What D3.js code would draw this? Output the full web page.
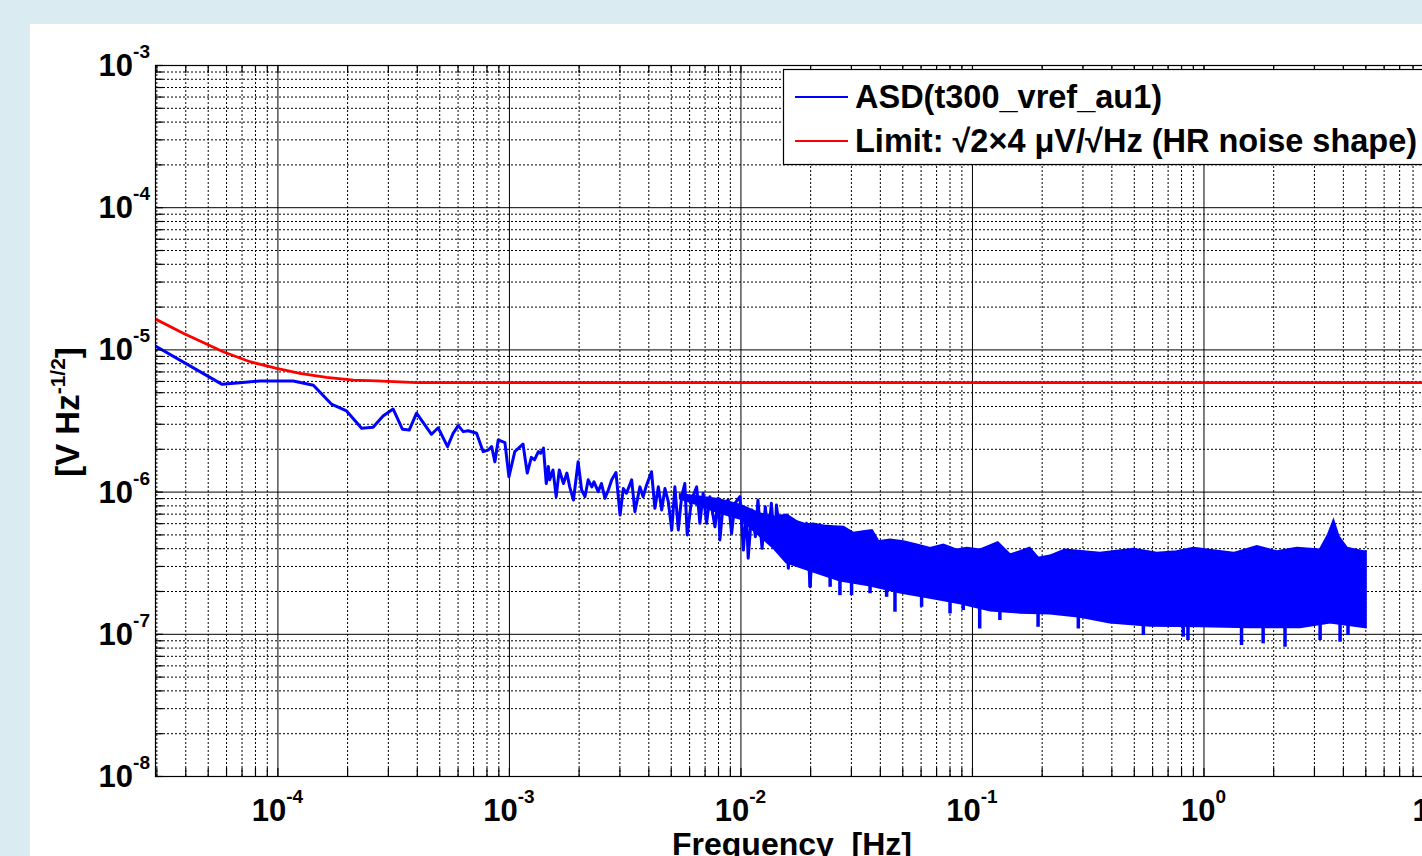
<!DOCTYPE html>
<html>
<head>
<meta charset="utf-8">
<script src="https://cdn.jsdelivr.net/npm/d3@7"></script>
<style>
  body { margin: 0; background: #daecf2; overflow: hidden; }
  svg { display: block; }
</style>
</head>
<body>
<svg id="chart" width="1422" height="856"></svg>
<script>
// resolved part of the spectrum
var asdFreq = [2.96e-5, 5.77e-5, 6.89e-5, 8.40e-5, 1.17e-4, 1.43e-4, 1.71e-4, 1.99e-4, 2.31e-4, 2.59e-4,
    2.86e-4, 3.16e-4, 3.47e-4, 3.71e-4, 3.99e-4, 4.63e-4, 4.95e-4, 5.43e-4, 5.74e-4, 6.04e-4,
    6.35e-4, 6.67e-4, 7.25e-4, 7.74e-4, 8.14e-4, 8.42e-4, 8.70e-4, 8.99e-4, 9.61e-4, 1.00e-3,
    1.06e-3, 1.15e-3, 1.20e-3, 1.25e-3, 1.29e-3, 1.34e-3, 1.37e-3, 1.41e-3, 1.45e-3, 1.48e-3,
    1.50e-3, 1.55e-3, 1.60e-3, 1.65e-3, 1.72e-3, 1.78e-3, 1.83e-3, 1.90e-3, 1.99e-3, 2.06e-3,
    2.13e-3, 2.20e-3, 2.28e-3, 2.33e-3, 2.43e-3, 2.51e-3, 2.60e-3, 2.69e-3, 2.78e-3, 2.90e-3,
    3.02e-3, 3.12e-3, 3.22e-3, 3.39e-3, 3.50e-3, 3.68e-3, 3.80e-3, 3.93e-3, 4.13e-3, 4.27e-3,
    4.42e-3, 4.57e-3, 4.72e-3, 4.88e-3, 5.05e-3, 5.21e-3, 5.39e-3, 5.57e-3, 5.75e-3, 5.89e-3,
    6.15e-3, 6.47e-3, 6.68e-3, 6.90e-3, 7.14e-3, 7.38e-3, 7.76e-3, 8.02e-3, 8.15e-3, 8.43e-3,
    8.86e-3, 9.16e-3, 9.46e-3, 9.95e-3, 1.03e-2, 1.06e-2, 1.08e-2, 1.12e-2, 1.16e-2, 1.19e-2,
    1.24e-2, 1.28e-2, 1.32e-2, 1.36e-2, 1.41e-2, 1.43e-2, 1.51e-2, 1.56e-2, 1.61e-2, 1.66e-2,
    1.72e-2, 1.78e-2, 1.84e-2, 1.93e-2, 2.00e-2, 2.06e-2, 2.13e-2, 2.21e-2];
var asdValue = [1.06e-5, 5.68e-6, 5.83e-6, 6.0e-6, 6.0e-6, 5.59e-6, 4.13e-6, 3.69e-6, 2.79e-6, 2.83e-6,
    3.40e-6, 3.81e-6, 2.74e-6, 2.71e-6, 3.56e-6, 2.53e-6, 2.81e-6, 2.07e-6, 2.57e-6, 2.91e-6,
    2.64e-6, 2.68e-6, 2.57e-6, 1.91e-6, 1.96e-6, 2.07e-6, 1.62e-6, 2.31e-6, 2.21e-6, 1.27e-6,
    1.91e-6, 2.16e-6, 1.35e-6, 1.74e-6, 1.67e-6, 1.91e-6, 1.86e-6, 2.02e-6, 1.14e-6, 1.50e-6,
    1.21e-6, 1.42e-6, 9.21e-7, 1.42e-6, 1.14e-6, 1.35e-6, 1.08e-6, 8.73e-7, 1.62e-6, 1.03e-6,
    9.21e-7, 1.21e-6, 1.08e-6, 1.17e-6, 1.00e-6, 1.14e-6, 8.97e-7, 1.03e-6, 1.21e-6, 1.36e-6,
    6.84e-7, 1.05e-6, 9.73e-7, 1.21e-6, 7.22e-7, 1.08e-6, 9.21e-7, 1.11e-6, 1.38e-6, 7.63e-7,
    1.08e-6, 7.42e-7, 1.05e-6, 8.49e-7, 5.37e-7, 1.08e-6, 5.37e-7, 9.21e-7, 1.14e-6, 4.95e-7,
    8.73e-7, 1.08e-6, 5.98e-7, 9.73e-7, 5.98e-7, 9.21e-7, 5.66e-7, 8.97e-7, 4.57e-7, 8.27e-7,
    8.73e-7, 5.09e-7, 8.27e-7, 9.21e-7, 3.88e-7, 7.42e-7, 3.40e-7, 7.42e-7, 4.82e-7, 8.73e-7,
    3.99e-7, 7.83e-7, 4.82e-7, 8.27e-7, 4.10e-7, 8.05e-7, 3.88e-7, 5.98e-7, 2.89e-7, 5.37e-7,
    3.13e-7, 5.66e-7, 3.48e-7, 5.98e-7, 2.14e-7, 5.09e-7, 3.88e-7, 5.37e-7];

// dense part: upper and lower edge of the solid noise band
var bandTopFreq = [5.5e-3, 6.5e-3, 8.0e-3, 1.0e-2, 1.2e-2, 1.4e-2, 1.58e-2, 1.75e-2, 1.93e-2, 2.06e-2,
    2.28e-2, 2.52e-2, 2.78e-2, 3.07e-2, 3.39e-2, 3.69e-2, 3.94e-2, 4.42e-2, 5.05e-2, 5.77e-2,
    6.59e-2, 7.52e-2, 8.59e-2, 9.49e-2, 0.108, 0.129, 0.146, 0.177, 0.193, 0.217,
    0.252, 0.303, 0.357, 0.498, 0.628, 0.766, 0.904, 1.10, 1.35, 1.70,
    2.07, 2.53, 3.19, 3.46, 3.64, 3.82, 4.16, 4.90, 5.0];
var bandTopValue = [9.5e-7, 9.2e-7, 8.8e-7, 8.0e-7, 7.0e-7, 6.6e-7, 6.84e-7, 6.14e-7, 5.82e-7, 5.92e-7,
    5.73e-7, 5.66e-7, 5.61e-7, 5.09e-7, 5.22e-7, 5.31e-7, 4.44e-7, 4.57e-7, 4.44e-7, 4.21e-7,
    3.99e-7, 4.21e-7, 3.88e-7, 3.99e-7, 3.88e-7, 4.37e-7, 3.58e-7, 3.99e-7, 3.40e-7, 3.52e-7,
    3.88e-7, 3.78e-7, 3.68e-7, 3.93e-7, 3.68e-7, 3.78e-7, 3.99e-7, 3.84e-7, 3.68e-7, 4.10e-7,
    3.78e-7, 3.99e-7, 3.88e-7, 4.95e-7, 6.14e-7, 4.82e-7, 3.99e-7, 3.78e-7, 3.78e-7];
var bandBottomFreq = [5.5e-3, 6.5e-3, 8.0e-3, 1.0e-2, 1.2e-2, 1.4e-2, 1.58e-2, 2.00e-2, 2.69e-2, 3.63e-2,
    4.89e-2, 6.59e-2, 8.87e-2, 0.120, 0.161, 0.217, 0.293, 0.394, 0.587, 0.966,
    1.59, 2.61, 3.52, 5.0];
var bandBottomValue = [9.0e-7, 8.2e-7, 7.2e-7, 6.5e-7, 5.0e-7, 4.0e-7, 3.20e-7, 2.81e-7, 2.39e-7, 2.20e-7,
    1.97e-7, 1.81e-7, 1.65e-7, 1.47e-7, 1.42e-7, 1.40e-7, 1.33e-7, 1.21e-7, 1.15e-7, 1.14e-7,
    1.12e-7, 1.12e-7, 1.21e-7, 1.12e-7];

// isolated downward spikes below the band: frequency, start (inside band), tip
var spikeFreq = [2.00e-2, 2.44e-2, 2.69e-2, 3.02e-2, 3.63e-2, 4.28e-2, 4.65e-2, 6.06e-2, 8.04e-2, 9.17e-2,
    0.108, 0.132, 0.193, 0.288, 0.550, 0.818, 0.857, 1.46, 1.81, 2.25, 3.19, 3.89, 4.21];
var spikeFrom = [3.05e-7, 2.90e-7, 2.72e-7, 2.59e-7, 2.51e-7, 2.31e-7, 2.24e-7, 2.03e-7, 1.91e-7, 1.84e-7,
    1.73e-7, 1.65e-7, 1.59e-7, 1.52e-7, 1.30e-7, 1.28e-7, 1.28e-7, 1.26e-7, 1.26e-7, 1.25e-7, 1.25e-7, 1.28e-7, 1.26e-7];
var spikeTo = [2.14e-7, 2.14e-7, 1.87e-7, 1.87e-7, 1.93e-7, 1.82e-7, 1.43e-7, 1.55e-7, 1.39e-7, 1.47e-7,
    1.09e-7, 1.25e-7, 1.12e-7, 1.09e-7, 9.8e-8, 9.54e-8, 9.04e-8, 8.34e-8, 8.57e-8, 8.11e-8, 9.04e-8, 8.80e-8, 9.8e-8];

// limit curve
var limitFreq = [2.96e-5, 3.92e-5, 5.83e-5, 7.61e-5, 9.92e-5, 1.25e-4, 1.63e-4, 2.13e-4, 2.68e-4, 3.99e-4, 10];
var limitValue = [1.64e-5, 1.30e-5, 9.63e-6, 8.19e-6, 7.36e-6, 6.79e-6, 6.36e-6, 6.09e-6, 6.00e-6, 5.83e-6, 5.83e-6];

var xTickExp = [-4, -3, -2, -1, 0, 1];
var yTickExp = [-8, -7, -6, -5, -4, -3];
var legendLabels = ["ASD(t300_vref_au1)", "Limit: \u221A2\u00D74 \u03BCV/\u221AHz (HR noise shape)"];
var legendColors = ["#0000ff", "#ff0000"];

var font = "'Liberation Sans', Arial, Helvetica, sans-serif";
var svg = d3.select("#chart");

var xLeft = 155, xRight = 1435, yTop = 65, yBottom = 776;
var x = d3.scaleLog().domain([2.96e-5, 10]).range([xLeft, xRight]);
var y = d3.scaleLog().domain([1e-8, 1e-3]).range([yBottom, yTop]);

function pow10(e) { return +("1e" + e); }

var majorX = xTickExp.map(pow10),
    majorY = yTickExp.map(pow10),
    minorX = [],
    minorY = [];
d3.range(-5, 1).forEach(function (e) {
    d3.range(2, 10).forEach(function (m) {
        var v = m * pow10(e);
        if (v >= x.domain()[0] && v <= x.domain()[1]) minorX.push(v);
    });
});
d3.range(-8, -3).forEach(function (e) {
    d3.range(2, 10).forEach(function (m) { minorY.push(m * pow10(e)); });
});

// figure background
svg.append("rect")
    .attr("x", 30).attr("y", 24)
    .attr("width", 1422).attr("height", 856)
    .attr("fill", "#ffffff");

// grid
function grid(axis, tr, dash) {
    var g = svg.append("g").attr("transform", tr).call(axis);
    g.select(".domain").remove();
    g.selectAll("line").attr("stroke", "#000").attr("stroke-width", 1)
        .attr("stroke-dasharray", dash);
}
grid(d3.axisBottom(x).tickValues(minorX).tickSize(-(yBottom - yTop)).tickFormat(""),
    "translate(0," + yBottom + ")", "2,2");
grid(d3.axisLeft(y).tickValues(minorY).tickSize(-(xRight - xLeft)).tickFormat(""),
    "translate(" + xLeft + ",0)", "2,2");
grid(d3.axisBottom(x).tickValues(majorX).tickSize(-(yBottom - yTop)).tickFormat(""),
    "translate(0," + yBottom + ")", null);
grid(d3.axisLeft(y).tickValues(majorY).tickSize(-(xRight - xLeft)).tickFormat(""),
    "translate(" + xLeft + ",0)", null);

// data
svg.append("clipPath").attr("id", "plotclip")
    .append("rect").attr("x", xLeft).attr("y", yTop)
    .attr("width", xRight - xLeft).attr("height", yBottom - yTop);

var plot = svg.append("g").attr("clip-path", "url(#plotclip)");
var line = d3.line()
    .x(function (d) { return x(d[0]); })
    .y(function (d) { return y(d[1]); });

var bandPts = bandTopFreq.map(function (f, i) { return [f, bandTopValue[i]]; })
    .concat(bandBottomFreq.map(function (f, i) { return [f, bandBottomValue[i]]; }).reverse());

plot.append("path")
    .attr("d", line(bandPts) + "Z")
    .attr("fill", "#0000ff")
    .attr("stroke", "#0000ff")
    .attr("stroke-width", 3)
    .attr("stroke-linejoin", "miter");

plot.selectAll(".spike")
    .data(spikeFreq).enter().append("line")
    .attr("class", "spike")
    .attr("x1", function (d) { return x(d); })
    .attr("x2", function (d) { return x(d); })
    .attr("y1", function (d, i) { return y(spikeFrom[i]); })
    .attr("y2", function (d, i) { return y(spikeTo[i]); })
    .attr("stroke", "#0000ff")
    .attr("stroke-width", 3.5);

plot.append("path")
    .attr("d", line(asdFreq.map(function (f, i) { return [f, asdValue[i]]; })))
    .attr("fill", "none")
    .attr("stroke", "#0000ff")
    .attr("stroke-width", 3)
    .attr("stroke-linejoin", "round");

plot.append("path")
    .attr("d", line(limitFreq.map(function (f, i) { return [f, limitValue[i]]; })))
    .attr("fill", "none")
    .attr("stroke", "#ff0000")
    .attr("stroke-width", 2.8);

// box and inward ticks
svg.append("rect")
    .attr("x", xLeft + 0.5).attr("y", yTop + 0.5)
    .attr("width", xRight - xLeft).attr("height", yBottom - yTop)
    .attr("fill", "none").attr("stroke", "#000").attr("stroke-width", 1.2);

function ticks(axis, tr) {
    var g = svg.append("g").attr("transform", tr).call(axis);
    g.select(".domain").remove();
    g.selectAll("line").attr("stroke", "#000").attr("stroke-width", 1.2);
}
var allX = minorX.concat(majorX), allY = minorY.concat(majorY);
ticks(d3.axisBottom(x).tickValues(allX).tickSize(-8).tickFormat(""), "translate(0," + yBottom + ")");
ticks(d3.axisTop(x).tickValues(allX).tickSize(-8).tickFormat(""), "translate(0," + yTop + ")");
ticks(d3.axisLeft(y).tickValues(allY).tickSize(-8).tickFormat(""), "translate(" + xLeft + ",0)");

// tick labels: 10 with superscript exponent
svg.append("g").selectAll("text")
    .data(xTickExp).enter().append("text")
    .attr("x", function (d) { return x(pow10(d)); })
    .attr("y", 821)
    .attr("text-anchor", "middle")
    .attr("font-family", font).attr("font-weight", "bold").attr("font-size", 31)
    .each(function (d) {
        var t = d3.select(this);
        t.append("tspan").text("10");
        t.append("tspan").attr("font-size", 19).attr("dy", -18).text(d);
    });

svg.append("g").selectAll("text")
    .data(yTickExp).enter().append("text")
    .attr("x", 150)
    .attr("y", function (d) { return y(pow10(d)) + 11; })
    .attr("text-anchor", "end")
    .attr("font-family", font).attr("font-weight", "bold").attr("font-size", 31)
    .each(function (d) {
        var t = d3.select(this);
        t.append("tspan").text("10");
        t.append("tspan").attr("font-size", 19).attr("dy", -18).text(d);
    });

// axis titles
svg.append("text")
    .attr("x", 792).attr("y", 855)
    .attr("text-anchor", "middle")
    .attr("font-family", font).attr("font-weight", "bold").attr("font-size", 32)
    .attr("xml:space", "preserve")
    .text("Frequency  [Hz]");

var yt = svg.append("text")
    .attr("transform", "translate(79,412) rotate(-90)")
    .attr("text-anchor", "middle")
    .attr("font-family", font).attr("font-weight", "bold").attr("font-size", 33);
yt.append("tspan").text("[V Hz");
yt.append("tspan").attr("font-size", 21).attr("dy", -14).text("-1/2");
yt.append("tspan").attr("dy", 14).text("]");

// legend
var lg = svg.append("g");
lg.append("rect")
    .attr("x", 783.5).attr("y", 69.5)
    .attr("width", 660).attr("height", 95)
    .attr("fill", "#ffffff").attr("stroke", "#000").attr("stroke-width", 1.2);
legendLabels.forEach(function (lbl, i) {
    var cy = 97 + i * 44;
    lg.append("line")
        .attr("x1", 795).attr("x2", 848)
        .attr("y1", cy).attr("y2", cy)
        .attr("stroke", legendColors[i]).attr("stroke-width", 2.2);
    lg.append("text")
        .attr("x", 855).attr("y", cy + 11)
        .attr("font-family", font).attr("font-weight", "bold").attr("font-size", 32.5)
        .text(lbl);
});
</script>
</body>
</html>
